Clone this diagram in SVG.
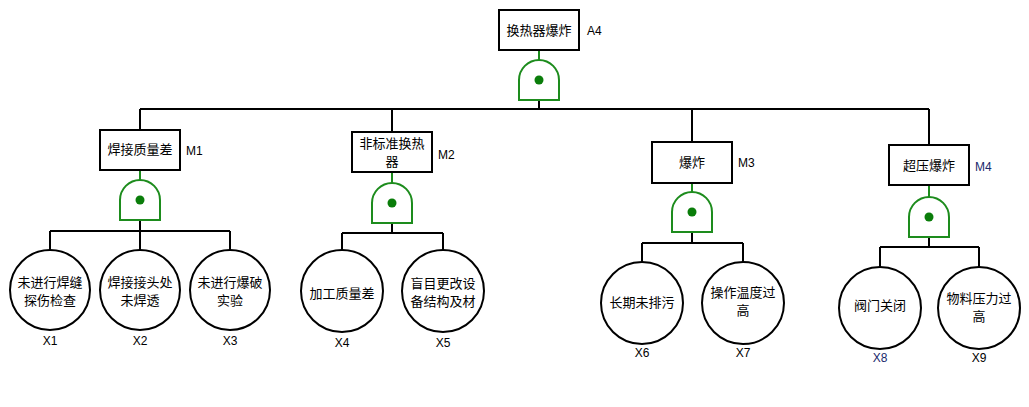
<svg xmlns="http://www.w3.org/2000/svg" width="1029" height="407" viewBox="0 0 1029 407">
<style>
.bg{fill:#fff}
.box{fill:#fff;stroke:#000;stroke-width:2}
.circ{fill:#fff;stroke:#000;stroke-width:2}
.gate{fill:#fff;stroke:#1d8c1d;stroke-width:2}
.dot{fill:#0a7d0a}
.gl{stroke:#1d8c1d;stroke-width:2;fill:none}
.wire{stroke:#000;stroke-width:2;fill:none}
.t{font-family:"Noto Sans CJK SC","Liberation Sans",sans-serif;font-size:13px;fill:#000;text-anchor:middle}
.lb{font-family:"Liberation Sans",Arial,sans-serif;font-size:12px;fill:#000}
.lbc{font-family:"Liberation Sans",Arial,sans-serif;font-size:12px;fill:#000;text-anchor:middle}
</style>
<rect class="bg" x="0" y="0" width="1029" height="407"/>
<g id="connectors">
<path class="wire" d="M539,100 V109 M140,109 H929 M140,109 V130 M392,109 V132 M692,109 V142 M929,109 V145"/>
<path class="wire" d="M140,220 V231 M50,231 H230 M50,231 V250 M140,231 V250 M230,231 V250"/>
<path class="wire" d="M392,223 V233 M342,233 H443 M342,233 V250 M443,233 V250"/>
<path class="wire" d="M692,232 V243 M642,243 H743 M642,243 V262 M743,243 V262"/>
<path class="wire" d="M929,237 V247 M880,247 H979 M880,247 V267 M979,247 V267"/>
<path class="gl" d="M539,50 V60 M140,170 V180 M392,172 V183 M692,183 V192 M929,185 V197"/>
</g>
<g id="A4">
<rect class="box" x="499" y="10" width="80" height="40"/>
<text class="t" x="539" y="35">换热器爆炸</text>
<text class="lb" x="587" y="35">A4</text>
<path class="gate" d="M519,100 V80 A20,20 0 0 1 559,80 V100 Z"/>
<circle class="dot" cx="539" cy="80" r="4.5"/>
</g>
<g id="M1">
<rect class="box" x="100" y="130" width="80" height="40"/>
<text class="t" x="140" y="154">焊接质量差</text>
<text class="lb" x="186" y="155">M1</text>
<path class="gate" d="M120,220 V200 A20,20 0 0 1 160,200 V220 Z"/>
<circle class="dot" cx="140" cy="200" r="4.5"/>
</g>
<g id="M2">
<rect class="box" x="352" y="132" width="80" height="40"/>
<text class="t" x="392" y="148">非标准换热</text>
<text class="t" x="392" y="166">器</text>
<text class="lb" x="438" y="159">M2</text>
<path class="gate" d="M372,223 V203 A20,20 0 0 1 412,203 V223 Z"/>
<circle class="dot" cx="392" cy="203" r="4.5"/>
</g>
<g id="M3">
<rect class="box" x="652" y="142" width="80" height="41"/>
<text class="t" x="692" y="167">爆炸</text>
<text class="lb" x="738" y="167">M3</text>
<path class="gate" d="M672,232 V212 A20,20 0 0 1 712,212 V232 Z"/>
<circle class="dot" cx="692" cy="212" r="4.5"/>
</g>
<g id="M4">
<rect class="box" x="889" y="145" width="80" height="40"/>
<text class="t" x="929" y="170">超压爆炸</text>
<text class="lb" x="975" y="171" style="fill:#1a2a6c">M4</text>
<path class="gate" d="M909,237 V217 A20,20 0 0 1 949,217 V237 Z"/>
<circle class="dot" cx="929" cy="217" r="4.5"/>
</g>
<g id="X1">
<circle class="circ" cx="50" cy="290" r="40"/>
<text class="t" x="50" y="287">未进行焊缝</text>
<text class="t" x="50" y="305">探伤检查</text>
<text class="lbc" x="50" y="345">X1</text>
</g>
<g id="X2">
<circle class="circ" cx="140" cy="290" r="40"/>
<text class="t" x="140" y="287">焊接接头处</text>
<text class="t" x="140" y="305">未焊透</text>
<text class="lbc" x="140" y="345">X2</text>
</g>
<g id="X3">
<circle class="circ" cx="230" cy="290" r="40"/>
<text class="t" x="230" y="287">未进行爆破</text>
<text class="t" x="230" y="305">实验</text>
<text class="lbc" x="230" y="345">X3</text>
</g>
<g id="X4">
<circle class="circ" cx="342" cy="291" r="41"/>
<text class="t" x="342" y="298">加工质量差</text>
<text class="lbc" x="342" y="347">X4</text>
</g>
<g id="X5">
<circle class="circ" cx="443" cy="291" r="41"/>
<text class="t" x="443" y="288">盲目更改设</text>
<text class="t" x="443" y="306">备结构及材</text>
<text class="lbc" x="443" y="347">X5</text>
</g>
<g id="X6">
<circle class="circ" cx="642" cy="303" r="41"/>
<text class="t" x="642" y="307">长期未排污</text>
<text class="lbc" x="642" y="357">X6</text>
</g>
<g id="X7">
<circle class="circ" cx="743" cy="303" r="41"/>
<text class="t" x="743" y="297">操作温度过</text>
<text class="t" x="743" y="315">高</text>
<text class="lbc" x="743" y="357">X7</text>
</g>
<g id="X8">
<circle class="circ" cx="880" cy="308" r="41"/>
<text class="t" x="880" y="310">阀门关闭</text>
<text class="lbc" x="880" y="362" style="fill:#1a2a6c">X8</text>
</g>
<g id="X9">
<circle class="circ" cx="979" cy="308" r="41"/>
<text class="t" x="979" y="303">物料压力过</text>
<text class="t" x="979" y="321">高</text>
<text class="lbc" x="979" y="362">X9</text>
</g>
</svg>
